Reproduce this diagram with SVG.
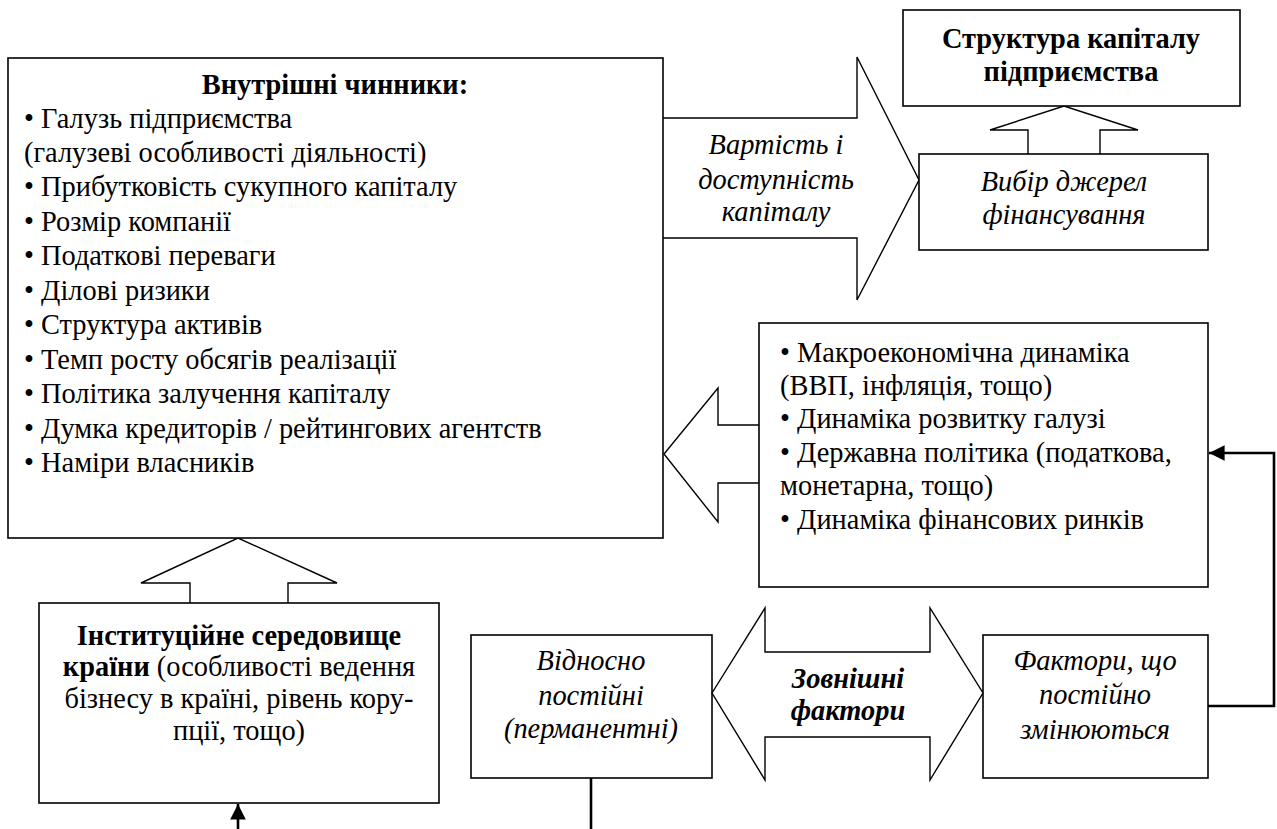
<svg xmlns="http://www.w3.org/2000/svg" width="1277" height="829" viewBox="0 0 1277 829">
<style>
.box{fill:#fff;stroke:#000;stroke-width:1.6}
.shape{fill:#fff;stroke:#000;stroke-width:1.4;stroke-linejoin:miter}
.t{font-family:'Liberation Serif','Tinos','DejaVu Serif',serif;font-size:28.4px;fill:#000}
.b{font-weight:bold}
.i{font-style:italic}
.c{text-anchor:middle}
.conn{fill:none;stroke:#000;stroke-width:2.6}
</style>
<defs>
<marker id="ah" viewBox="0 0 10 10" refX="10" refY="5" markerWidth="6" markerHeight="6" markerUnits="strokeWidth" orient="auto">
<path d="M0,0 L10,5 L0,10 Z" fill="#000"/>
</marker>
</defs>
<rect width="1277" height="829" fill="#fff"/>

<g id="arrows-big">
<path class="shape" d="M663,118 H857 V57 L919,180 L857,300 V238 H663"/>
<path class="shape" d="M1028,154 V130 H990 L1064,106 L1138,130 H1100 V154"/>
<path class="shape" d="M759,425 H718 V388 L664,454 L718,522 V483 H759"/>
<path class="shape" d="M190,603 V583 H141 L238,538 L337,583 H288 V603"/>
</g>

<g id="internal">
<rect class="box" x="8" y="58" width="655" height="480"/>
<text class="t b c" x="335" y="94">Внутрішні чинники:</text>
<text class="t" x="24" y="128">• Галузь підприємства</text>
<text class="t" x="24" y="162">(галузеві особливості діяльності)</text>
<text class="t" x="24" y="196">• Прибутковість сукупного капіталу</text>
<text class="t" x="24" y="231">• Розмір компанії</text>
<text class="t" x="24" y="265">• Податкові переваги</text>
<text class="t" x="24" y="300">• Ділові ризики</text>
<text class="t" x="24" y="334">• Структура активів</text>
<text class="t" x="24" y="369">• Темп росту обсягів реалізації</text>
<text class="t" x="24" y="403">• Політика залучення капіталу</text>
<text class="t" x="24" y="438">• Думка кредиторів / рейтингових агентств</text>
<text class="t" x="24" y="472">• Наміри власників</text>
</g>

<g id="cost-label">
<text class="t i c" x="776" y="154">Вартість і</text>
<text class="t i c" x="776" y="189">доступність</text>
<text class="t i c" x="776" y="221">капіталу</text>
</g>

<g id="structure">
<rect class="box" x="903" y="10" width="337" height="96"/>
<text class="t b c" x="1071" y="48">Структура капіталу</text>
<text class="t b c" x="1071" y="81">підприємства</text>
</g>

<g id="choice">
<rect class="box" x="919" y="154" width="289" height="96"/>
<text class="t i c" x="1064" y="191">Вибір джерел</text>
<text class="t i c" x="1064" y="224">фінансування</text>
</g>

<g id="macro">
<rect class="box" x="759" y="323" width="449" height="264"/>
<text class="t" x="780" y="362">• Макроекономічна динаміка</text>
<text class="t" x="780" y="395">(ВВП, інфляція, тощо)</text>
<text class="t" x="780" y="428">• Динаміка розвитку галузі</text>
<text class="t" x="780" y="462">• Державна політика (податкова,</text>
<text class="t" x="780" y="495">монетарна, тощо)</text>
<text class="t" x="780" y="529">• Динаміка фінансових ринків</text>
</g>

<g id="institutional">
<rect class="box" x="39" y="603" width="400" height="200"/>
<text class="t b c" x="239" y="645">Інституційне середовище</text>
<text class="t c" x="239" y="676"><tspan class="b">країни</tspan> (особливості ведення</text>
<text class="t c" x="239" y="708">бізнесу в країні, рівень кору-</text>
<text class="t c" x="239" y="740">пції, тощо)</text>
</g>

<g id="permanent">
<rect class="box" x="471" y="635" width="241" height="143"/>
<text class="t i c" x="591" y="670">Відносно</text>
<text class="t i c" x="591" y="705">постійні</text>
<text class="t i c" x="591" y="738">(перманентні)</text>
</g>

<g id="external">
<path class="shape" d="M712,693 L765,608 V652 H930 V608 L983,693 L930,780 V737 H765 V780 Z"/>
<text class="t b i c" x="848" y="688">Зовнішні</text>
<text class="t b i c" x="848" y="720">фактори</text>
</g>

<g id="changing">
<rect class="box" x="983" y="635" width="225" height="143"/>
<text class="t i c" x="1095" y="670">Фактори, що</text>
<text class="t i c" x="1095" y="704">постійно</text>
<text class="t i c" x="1095" y="739">змінюються</text>
</g>

<g id="connectors">
<path class="conn" d="M1208,706 H1274 V453 H1209" marker-end="url(#ah)"/>
<path class="conn" d="M238,829 V804" marker-end="url(#ah)"/>
<path class="conn" d="M591,778 V829"/>
</g>
</svg>
